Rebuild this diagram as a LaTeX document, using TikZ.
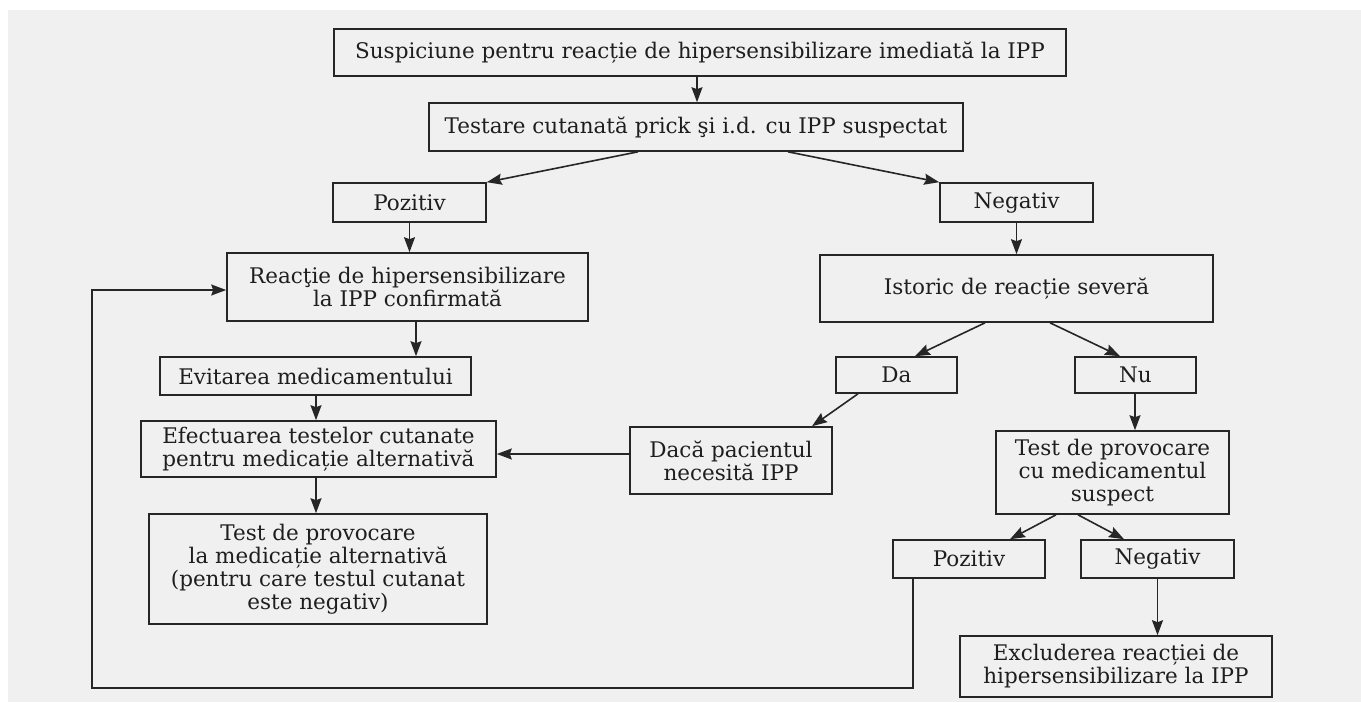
\documentclass[tikz,border=0pt]{standalone}
\usepackage{fontspec}
\setmainfont{DejaVu Serif}
\usetikzlibrary{arrows.meta}
\definecolor{bggray}{HTML}{F0F0F0}
\definecolor{ink}{HTML}{262626}
\definecolor{txt}{HTML}{1E1E1E}
\tikzset{
  fbox/.style={draw=ink, line width=1.6pt, inner sep=0pt, align=center, text=txt,
    font=\fontsize{21.5}{23}\selectfont},
  arr/.style={draw=ink, line width=1.6pt, -{Stealth[length=15pt,width=11pt,inset=2pt]}},
}
\begin{document}
\begin{tikzpicture}[x=1pt,y=-1pt]
\useasboundingbox (0,0) rectangle (1361,702);
\fill[bggray] (8,10) rectangle (1361,702);

\node[fbox, minimum width=732pt, minimum height=47pt] (top) at (700,52.5) {Suspiciune pentru reacție de hipersensibilizare imediată la IPP};
\node[fbox, minimum width=534pt, minimum height=48pt] (test) at (696,127) {Testare cutanată prick şi i.d. cu IPP suspectat};
\node[fbox, minimum width=153pt, minimum height=39pt] (pozA) at (409.5,202.5) {Pozitiv};
\node[fbox, minimum width=153pt, minimum height=39pt] (negA) at (1016.5,202.5) {Negativ};
\node[fbox, minimum width=361pt, minimum height=68pt] (reac) at (407.5,287) {Reacţie de hipersensibilizare\\la IPP confirmată};
\node[fbox, minimum width=393pt, minimum height=67pt] (ist) at (1016.5,288.5) {Istoric de reacție severă};
\node[fbox, minimum width=121pt, minimum height=36pt] (da) at (896.5,375) {Da};
\node[fbox, minimum width=121pt, minimum height=36pt] (nu) at (1135.5,375) {Nu};
\node[fbox, minimum width=311pt, minimum height=38pt] (evit) at (315.5,376) {Evitarea medicamentului};
\node[fbox, minimum width=355pt, minimum height=56pt] (efec) at (318.5,449) {Efectuarea testelor cutanate\\pentru medicație alternativă};
\node[fbox, minimum width=202pt, minimum height=67pt] (daca) at (731,460.5) {Dacă pacientul\\necesită IPP};
\node[fbox, minimum width=233pt, minimum height=83pt] (tprov) at (1112.5,472.5) {Test de provocare\\cu medicamentul\\suspect};
\node[fbox, minimum width=152pt, minimum height=38pt] (pozB) at (969,559) {Pozitiv};
\node[fbox, minimum width=153pt, minimum height=38pt] (negB) at (1157.5,559) {Negativ};
\node[fbox, minimum width=338pt, minimum height=110pt] (talt) at (318,569) {Test de provocare\\la medicație alternativă\\(pentru care testul cutanat\\este negativ)};
\node[fbox, minimum width=312pt, minimum height=61pt] (excl) at (1116,666.5) {Excluderea reacției de\\hipersensibilizare la IPP};

\coordinate (fbl) at (92,688);

\draw[arr] ([xshift=-3pt]top.south) -- ([xshift=-3pt]top.south |- test.north);
\draw[arr] ([xshift=-58pt]test.south) -- (pozA.north east);
\draw[arr] ([xshift=92pt]test.south) -- (negA.north west);
\draw[arr] (pozA.south) -- (pozA.south |- reac.north);
\draw[arr] (negA.south) -- (ist.north);
\draw[arr] ([xshift=-31.5pt]ist.south) -- ([xshift=18.5pt]da.north);
\draw[arr] ([xshift=33.5pt]ist.south) -- ([xshift=-15.5pt]nu.north);
\draw[arr] ([xshift=8.5pt]reac.south) -- ([xshift=8.5pt]reac.south |- evit.north);
\draw[arr] ([xshift=0.5pt]evit.south) -- ([xshift=0.5pt]evit.south |- efec.north);
\draw[arr] ([xshift=-2.5pt]efec.south) -- ([xshift=-2.5pt]efec.south |- talt.north);
\draw[arr] ([xshift=-38.5pt]da.south) -- ([xshift=81pt]daca.north);
\draw[arr] ([yshift=6.5pt]daca.west) -- ([yshift=6.5pt]daca.west -| efec.east);
\draw[arr] ([xshift=-0.5pt]nu.south) -- ([xshift=-0.5pt]nu.south |- tprov.north);
\draw[arr] ([xshift=-56.5pt]tprov.south) -- ([xshift=41pt]pozB.north);
\draw[arr] ([xshift=-34.5pt]tprov.south) -- ([xshift=-33.5pt]negB.north);
\draw[arr] (negB.south) -- (negB.south |- excl.north);
\draw[arr] ([xshift=-56pt]pozB.south) |- (fbl) |- ([yshift=-3pt]reac.west);
\end{tikzpicture}
\end{document}
